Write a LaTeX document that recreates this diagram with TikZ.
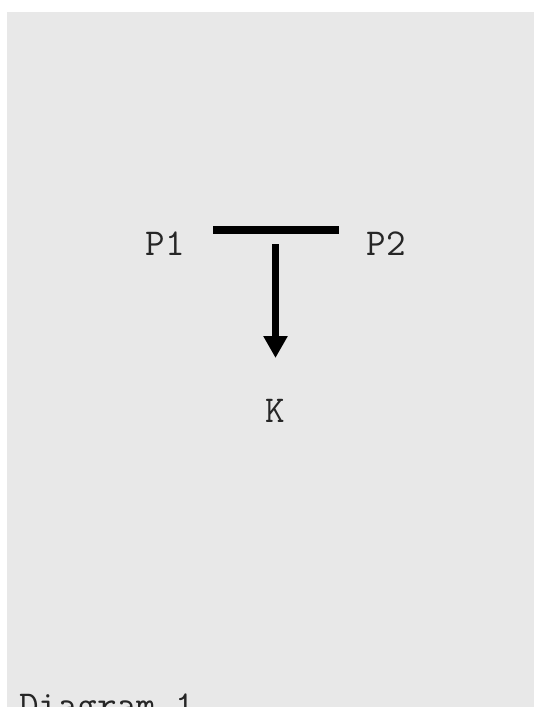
\documentclass[tikz,border=0pt]{standalone}
\usepackage{fontspec}
\usetikzlibrary{arrows.meta}
\definecolor{bggray}{RGB}{232,232,232}
\tikzset{
  lbl/.style={font=\ttfamily\fontsize{38}{38}\selectfont, inner sep=0pt, anchor=base, text=black!85},
  barline/.style={line width=8pt, black},
  flowarrow/.style={line width=7pt, black, -{Triangle[width=23pt 0, length=22pt 0]}}
}
\begin{document}
\begin{tikzpicture}[x=1pt, y=-1pt]
\useasboundingbox (0,0) rectangle (534,707);
\fill[white] (0,0) rectangle (534,707);
\fill[bggray] (7,12) rectangle (534,707);
% labels
\node[lbl] (p1) at (165,255) {P1};
\node[lbl] (p2) at (386,255) {P2};
\node[lbl] (k) at (275.5,422) {K};
\node[lbl, anchor=base west] (cap) at (19,717) {Diagram 1};
% bar
\coordinate (barL) at (213,230);
\coordinate (barR) at (339,230);
\draw[barline] (barL) -- (barR);
% arrow
\coordinate (arrS) at (275.5,244);
\coordinate (arrE) at (275.5,358);
\draw[flowarrow] (arrS) -- (arrE);
\end{tikzpicture}
\end{document}
